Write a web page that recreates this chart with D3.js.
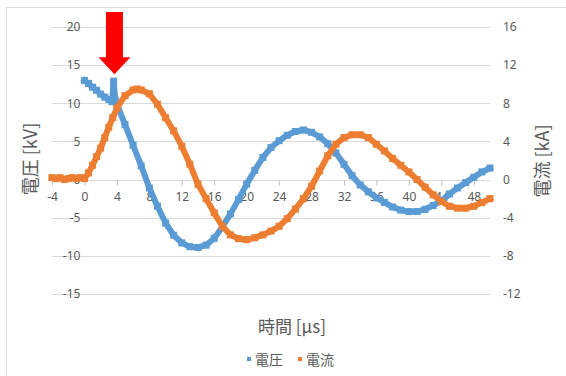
<!DOCTYPE html>
<html>
<head>
<meta charset="utf-8">
<script src="https://cdn.jsdelivr.net/npm/d3@7"></script>
<style>
  html, body { margin: 0; padding: 0; background: #fff; }
  svg { display: block; }
</style>
</head>
<body>
<svg id="chart" width="566" height="376"></svg>
<script>
// Voltage waveform (kV) sampled in microseconds
const voltageTime = [0, 0.5, 1, 1.5, 2, 2.5, 3, 3.4, 3.6, 3.8, 4, 5, 6, 7, 8, 9, 10, 11, 12, 13, 14, 15, 16, 17, 18, 19, 20,
  21, 22, 23, 24, 25, 26, 27, 28, 29, 30, 31, 32, 33, 34, 35, 36, 37, 38, 39, 40, 41, 42, 43, 44, 45, 46, 47, 48, 49, 50];
const voltage = [13.0, 12.6, 12.1, 11.7, 11.2, 10.8, 10.5, 10.2, 12.9, 10.4, 9.9, 7.2, 4.5, 1.8, -1.1, -3.5, -5.7, -7.3, -8.3, -8.8, -8.9, -8.6, -7.7, -6.2, -4.5, -2.6, -0.6,
  1.2, 2.9, 4.2, 5.1, 5.8, 6.3, 6.5, 6.2, 5.6, 4.7, 3.5, 2.0, 0.5, -0.7, -1.6, -2.4, -3.0, -3.6, -4.0, -4.2, -4.2, -3.9, -3.4, -2.8, -1.9, -1.1, -0.4, 0.3, 1.0, 1.5];

// Current waveform (kA)
const currentTime = [-4, -3.5, -3, -2.5, -2, -1.5, -1, -0.5, 0, 0.5, 1, 1.5, 2, 2.5, 3, 3.5, 4, 5, 6, 6.5, 7, 8, 9, 10, 11, 12, 13, 14, 15, 16, 17, 18, 19, 20,
  21, 22, 23, 24, 25, 26, 27, 28, 29, 30, 31, 32, 33, 34, 35, 36, 37, 38, 39, 40, 41, 42, 43, 44, 45, 46, 47, 48, 49, 50];
const current = [0.2, 0.1, 0.2, 0.0, 0.1, 0.2, 0.1, 0.2, 0.1, 0.7, 1.5, 2.4, 3.3, 4.4, 5.5, 6.5, 7.5, 8.8, 9.4, 9.5, 9.4, 9.0, 7.9, 6.5, 5.1, 3.5, 1.6, -0.5, -2.0, -3.5, -4.9, -5.8, -6.2, -6.3,
  -6.1, -5.8, -5.4, -4.9, -4.1, -3.1, -2.0, -0.7, 0.9, 2.5, 3.7, 4.4, 4.7, 4.7, 4.4, 3.7, 3.0, 2.2, 1.5, 0.8, 0.0, -0.8, -1.6, -2.3, -2.8, -3.0, -3.0, -2.8, -2.4, -2.0];

const timeTicks = [-4, 0, 4, 8, 12, 16, 20, 24, 28, 32, 36, 40, 44, 48];
const voltageTicks = [20, 15, 10, 5, 0, -5, -10, -15];
const currentTicks = [16, 12, 8, 4, 0, -4, -8, -12];
const seriesNames = ["電圧", "電流"];
const seriesColors = ["#5B9BD5", "#ED7D31"];
const axisTitles = { x: "時間 [µs]", left: "電圧 [kV]", right: "電流 [kA]" };

// Marker for the voltage spike
const spikeTime = 3.7;
const spikeVoltage = 12.9;

const svg = d3.select("#chart");
const W = 566, H = 376;
const textColor = "#595959";
const gridColor = "#D9D9D9";
const tickFont = "'Noto Sans', 'Noto Sans CJK JP', sans-serif";
const cjkFont = "'Noto Sans CJK JP', 'Noto Sans', sans-serif";
const plain = d => String(d);   // hyphen-minus like the spreadsheet labels

const x = d3.scaleLinear().domain([-4, 50]).range([52, 490]);
const yL = d3.scaleLinear().domain([-15, 20]).range([294, 27]);
const yR = d3.scaleLinear().domain([-12, 16]).range([294, 27]);

// chart frame
svg.append("rect").attr("x", 6.5).attr("y", 7.5).attr("width", W + 10).attr("height", H + 10)
  .attr("fill", "#fff").attr("stroke", gridColor).attr("stroke-width", 1);

// horizontal gridlines
svg.append("g").selectAll("line").data(voltageTicks).join("line")
  .attr("x1", x(-4)).attr("x2", x(50))
  .attr("y1", d => Math.round(yL(d)) + 0.5).attr("y2", d => Math.round(yL(d)) + 0.5)
  .attr("stroke", gridColor).attr("stroke-width", 1);

// left value axis (labels only)
const gL = svg.append("g").attr("transform", `translate(${x(0) - 1},0)`)
  .call(d3.axisLeft(yL).tickValues(voltageTicks).tickFormat(plain).tickSize(0).tickPadding(3));
gL.select(".domain").remove();

// right value axis
const gR = svg.append("g").attr("transform", `translate(${x(50)},0)`)
  .call(d3.axisRight(yR).tickValues(currentTicks).tickFormat(plain).tickSize(0).tickPadding(13));
gR.select(".domain").remove();

// time axis at zero
const gX = svg.append("g").attr("transform", `translate(0,${Math.round(yL(0)) + 0.5})`)
  .call(d3.axisBottom(x).tickValues(timeTicks).tickFormat(plain).tickSize(5).tickPadding(7));
gX.select(".domain").remove();
gX.selectAll(".tick line").attr("stroke", "#BFBFBF");

[gL, gR, gX].forEach(g => g.selectAll("text")
  .attr("fill", textColor).style("font-family", tickFont).style("font-size", "12px"));

// series: dense square markers joined into a thick band
function drawSeries(times, values, yScale, color) {
  const pts = times.map((t, i) => [x(t), yScale(values[i])]);
  const g = svg.append("g");
  g.append("path")
    .attr("d", d3.line()(pts))
    .attr("fill", "none").attr("stroke", color)
    .attr("stroke-width", 6).attr("stroke-linejoin", "round").attr("stroke-linecap", "square");
  g.selectAll("rect").data(pts).join("rect")
    .attr("x", d => d[0] - 3.5).attr("y", d => d[1] - 3.5)
    .attr("width", 7).attr("height", 7).attr("fill", color);
}
drawSeries(voltageTime, voltage, yL, seriesColors[0]);
drawSeries(currentTime, current, yR, seriesColors[1]);

// arrow pointing at the voltage spike
const ax = x(spikeTime), tipY = yL(spikeVoltage) - 7;
svg.append("path")
  .attr("d", `M${ax - 8.5},12 H${ax + 8.5} V${tipY - 17} H${ax + 16} L${ax},${tipY} L${ax - 16},${tipY - 17} H${ax - 8.5} Z`)
  .attr("fill", "#FF0000");

// axis titles
svg.append("text").attr("x", 292).attr("y", 325).attr("text-anchor", "middle")
  .attr("dominant-baseline", "central")
  .style("font-family", cjkFont).style("font-size", "17px").attr("fill", textColor)
  .text(axisTitles.x);
svg.append("text").attr("transform", "translate(29,159) rotate(-90)").attr("text-anchor", "middle")
  .attr("dominant-baseline", "central")
  .style("font-family", cjkFont).style("font-size", "18px").attr("fill", textColor)
  .text(axisTitles.left);
svg.append("text").attr("transform", "translate(541,161) rotate(-90)").attr("text-anchor", "middle")
  .attr("dominant-baseline", "central")
  .style("font-family", cjkFont).style("font-size", "18px").attr("fill", textColor)
  .text(axisTitles.right);

// legend
const legendX = [249, 300];
const lg = svg.append("g");
seriesNames.forEach((name, i) => {
  lg.append("rect").attr("x", legendX[i] - 2).attr("y", 357).attr("width", 4).attr("height", 4)
    .attr("fill", seriesColors[i]);
  lg.append("text").attr("x", legendX[i] + 6).attr("y", 359).attr("dominant-baseline", "central")
    .style("font-family", cjkFont).style("font-size", "14px").attr("fill", textColor).text(name);
});
</script>
</body>
</html>
